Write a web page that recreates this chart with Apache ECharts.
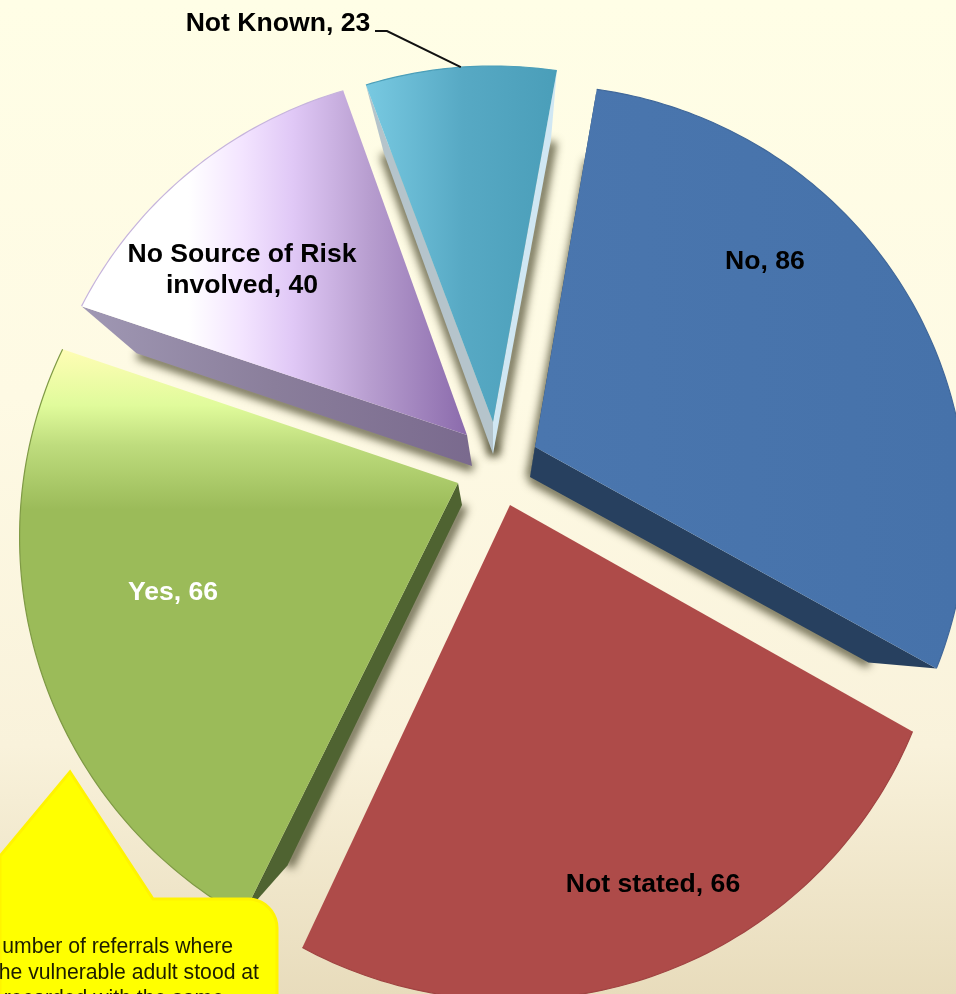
<!DOCTYPE html>
<html><head><meta charset="utf-8">
<style>html,body{margin:0;padding:0;overflow:hidden;background:#fffde5}#c{width:956px;height:994px}</style>
<script src="https://cdn.jsdelivr.net/npm/echarts@6/dist/echarts.min.js"></script>
</head><body><div id="c"></div>
<script>
// ---- data ----
const categories = ['No', 'Not stated', 'Yes', 'No Source of Risk\ninvolved', 'Not Known'];
const values = [86, 66, 66, 40, 23];
const calloutLines = ['umber of referrals where', 'he vulnerable adult stood at', 'recorded with the same'];

// ---- layout & style ----
const FONT = '"Liberation Sans", Arial, sans-serif';
const startDeg = 9.8;
const apexes = [[535,447],[510,505],[458,483],[467,435],[493,422]];   // exploded slice tips
const radiusBase = [427,430,435,427,421];
const radiusTilt = [65,65,55,65,65];                                   // perspective of the rim
const edgeAdj = [[0,-1.1],[-0.6,0.6],[1.9,-0.4],[-0.6,-0.1],[-1,0.5]]; // perspective skew of edges
const labelPos = [[765,262],[653,885],[173,593],[242,270],[278,24]];
const labelColor = ['#000','#000','#fff','#000','#000'];
const strokes = ['#41689a','#a04442','#7f9a45','#c6b4dc','#4c9fb9'];
const lg = (x,y,x2,y2,stops)=>({type:'linear',x,y,x2,y2,global:true,
  colorStops:stops.map(s=>({offset:s[0],color:s[1]}))});
const fills = [
  lg(540,0,956,0,[[0,'#4a76ae'],[1,'#4672aa']]),
  '#ae4b49',
  lg(0,349,0,510,[[0,'#fffdb5'],[0.35,'#e0fb9b'],[0.6,'#bedc7d'],[1,'#9bbb59']]),
  lg(80,0,467,0,[[0,'#ffffff'],[0.28,'#ffffff'],[0.42,'#f3e4ff'],[0.55,'#e0c8f6'],[0.75,'#b79dcf'],[1,'#8b6bac']]),
  lg(367,0,558,0,[[0,'#78c9e1'],[0.5,'#57a9c4'],[1,'#4a9eb9']])
];
// walls: slice, edge (0 = start, 1 = end), offset at tip, offset at outer end, fill
const walls = [
  [0,0,[-5,30],[-8,70],'#27405f'],
  [0,1,[-5,30],[-68,-6],'#27405f'],
  [2,0,[4,22],[45,-51],'#4f6331'],
  [3,0,[5,31],[55,47],lg(80,0,470,0,[[0,'#a098b4'],[0.5,'#8a7e9b'],[1,'#7a6a8e']])],
  [4,0,[0,32],[18,68],'#b5c4cb'],
  [4,1,[0,32],[-6,70],'#d0e7f3']
];
const total = values.reduce((a,b)=>a+b,0);
const sliceAngles = [];
values.reduce((acc,v,i)=>{
  sliceAngles.push([acc+edgeAdj[i][0], acc+v/total*360+edgeAdj[i][1]]);
  return acc+v/total*360;
}, startDeg);
const rad = d=>d*Math.PI/180;
function rimPoint(i,deg){
  const r = radiusBase[i]-radiusTilt[i]*Math.cos(rad(deg));
  return [apexes[i][0]+r*Math.sin(rad(deg)), apexes[i][1]-r*Math.cos(rad(deg))];
}
function renderTop(params,api){
  const i = params.dataIndex;
  const [a0,a1] = sliceAngles[i];
  const rim = [];
  const n = Math.ceil(a1-a0);
  for(let k=0;k<=n;k++) rim.push(rimPoint(i,a0+(a1-a0)*k/n));
  const children = [
    {type:'polygon',shape:{points:[apexes[i]].concat(rim)},style:{fill:fills[i]}},
    {type:'polyline',shape:{points:rim},style:{fill:null,stroke:strokes[i],lineWidth:1.2}}
  ];
  children.push({type:'text',x:labelPos[i][0],y:labelPos[i][1],z2:5,style:{
    text:categories[i]+', '+api.value(0),fill:labelColor[i],align:'center',verticalAlign:'middle',
    font:'bold 26.6px '+FONT,lineHeight:31}});
  if(i===4){
    const p = rimPoint(i,a0+(a1-a0)*0.5);
    children.push({type:'polyline',shape:{points:[[375,31],[387,31],p]},style:{stroke:'#111',lineWidth:2,fill:null}});
  }
  return {type:'group',children};
}
function renderWalls(params,api){
  const shadows=[], g=[];
  walls.forEach(w=>{
    if(w[0]!==params.dataIndex) return;
    const i=w[0], q=rimPoint(i,sliceAngles[i][w[1]]), p=apexes[i];
    const low=[p[0]+w[2][0],p[1]+w[2][1]], outer=[q[0]+w[3][0],q[1]+w[3][1]];
    // soft band only: the stroke itself sits off canvas, its blurred shadow lands along the wall
    shadows.push({type:'polyline',x:-3000,shape:{points:[outer,low]},
      style:{fill:null,stroke:'#000',lineWidth:10,lineJoin:'round',lineCap:'butt',
        shadowBlur:8,shadowColor:'rgba(80,78,50,0.85)',shadowOffsetX:3001,shadowOffsetY:1}});
    g.push({type:'polygon',shape:{points:[p,low,outer,q]},style:{fill:w[4]}});
  });
  return {type:'group',children:shadows.concat(g)};
}
const seriesData = values.map((v,i)=>({name:categories[i],value:[v]}));
const calloutShape = [[0,856],[70,772],[153,899],[248,899]];
for(let k=1;k<=10;k++){const t=rad(k*9);calloutShape.push([248+29*Math.sin(t),928-29*Math.cos(t)]);}
calloutShape.push([277,1000],[0,1000]);
const calloutText = (s,x,y)=>({type:'text',z:101,silent:true,x,y,
  style:{text:s,fill:'#1c1c00',align:'right',verticalAlign:'middle',font:'21.2px '+FONT}});
const chart = echarts.init(document.getElementById('c'),null,{renderer:'canvas'});
chart.setOption({
  animation:false,
  backgroundColor:{type:'linear',x:0,y:0,x2:0,y2:1,colorStops:[
    {offset:0,color:'#fffee6'},{offset:0.4,color:'#fefae4'},{offset:0.75,color:'#f9f2db'},{offset:1,color:'#e8dcbc'}]},
  series:[
    {type:'custom',coordinateSystem:'none',silent:true,z:1,renderItem:renderWalls,data:seriesData},
    {type:'custom',coordinateSystem:'none',silent:true,z:2,renderItem:renderTop,data:seriesData}
  ],
  graphic:[
    {type:'polygon',z:100,silent:true,shape:{points:calloutShape},
     style:{fill:'#ffff00',stroke:'#fff400',lineWidth:3}},
    calloutText(calloutLines[0],233,947),
    calloutText(calloutLines[1],259,973),
    calloutText(calloutLines[2],224,999)
  ]
});
</script></body></html>
